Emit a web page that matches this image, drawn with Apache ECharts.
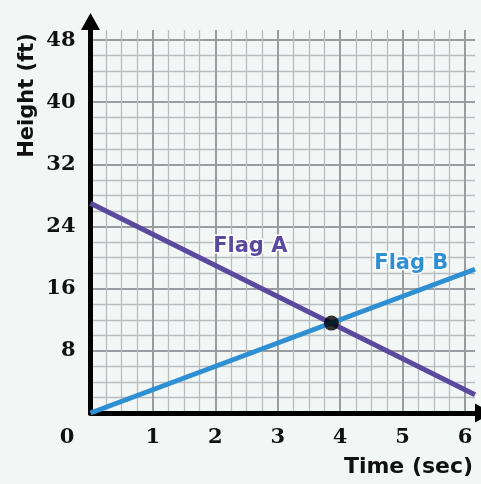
<!DOCTYPE html>
<html>
<head>
<meta charset="utf-8">
<script src="https://cdn.jsdelivr.net/npm/echarts@6/dist/echarts.min.js"></script>
<style>
html,body{margin:0;padding:0;background:#f2f7f6;}
#chart{width:481px;height:484px;}
</style>
</head>
<body>
<div id="chart"></div>
<script>
// Data
const flagATime = [0, 6.16];
const flagAHeight = [27, 2.36];
const flagBTime = [0, 6.16];
const flagBHeight = [0, 18.5];
const crossing = [3.86, 11.57];
const flagALabelPos = [2.56, 21.4];
const flagBLabelPos = [5.14, 19.2];
const xTicks = [0, 1, 2, 3, 4, 5, 6];
const yTicks = [8, 16, 24, 32, 40, 48];
const xMax = 6.16;
const yMax = 49.3;

const purple = '#5a4a9f';
const blue = '#2f8fd3';
const majorColor = '#9a9da0';
const minorColor = '#b9bcbe';
const tickFont = {fontFamily: 'DejaVu Serif', fontWeight: 'bold', fontSize: 21, color: '#111'};

const chart = echarts.init(document.getElementById('chart'), null, {renderer: 'canvas'});

const hiddenAxisBase = {axisLine: {show: false}, axisTick: {show: false}, axisLabel: {show: false}};

const option = {
  backgroundColor: '#f2f7f6',
  animation: false,
  grid: [
    {left: 90.5, right: 6, top: 40, bottom: 71},
    {left: 90.5, right: 16, top: 30, bottom: 71},
    {left: 90.5, right: 6, top: 30, bottom: 71}
  ],
  xAxis: [
    Object.assign({gridIndex: 0, type: 'value', min: 0, max: xMax, splitLine: {show: false}}, hiddenAxisBase),
    Object.assign({gridIndex: 1, type: 'value', min: 0, max: 6, interval: 1,
      splitLine: {show: true, lineStyle: {color: majorColor, width: 2}},
      minorTick: {show: false, splitNumber: 4},
      minorSplitLine: {show: true, lineStyle: {color: minorColor, width: 1.3}}}, hiddenAxisBase),
    {
      gridIndex: 2, type: 'value', min: 0, max: xMax, interval: 1,
      axisLine: {show: true, onZero: false, lineStyle: {color: '#000', width: 5},
        symbol: ['none', 'triangle'], symbolSize: [19, 17], symbolOffset: [0, 8.5]},
      axisTick: {show: false},
      splitLine: {show: false},
      axisLabel: {
        show: true, margin: 14,
        customValues: xTicks,
        formatter: function (v) { return v === 0 ? '{z|0}' : String(v); },
        rich: {z: Object.assign({padding: [0, 47, 0, 0]}, tickFont)},
        ...tickFont
      }
    }
  ],
  yAxis: [
    Object.assign({gridIndex: 0, type: 'value', min: 0, max: 48, interval: 8,
      splitLine: {show: true, lineStyle: {color: majorColor, width: 2}},
      minorTick: {show: false, splitNumber: 4},
      minorSplitLine: {show: true, lineStyle: {color: minorColor, width: 1.3}}}, hiddenAxisBase),
    Object.assign({gridIndex: 1, type: 'value', min: 0, max: yMax, splitLine: {show: false}}, hiddenAxisBase),
    {
      gridIndex: 2, type: 'value', min: 0, max: yMax, interval: 8,
      axisLine: {show: true, onZero: false, lineStyle: {color: '#000', width: 5},
        symbol: ['none', 'triangle'], symbolSize: [19, 17], symbolOffset: [0, 8.5]},
      axisTick: {show: false},
      splitLine: {show: false},
      axisLabel: {show: true, margin: 15, customValues: yTicks, ...tickFont}
    }
  ],
  graphic: [
    {type: 'text', x: 28, y: 95.5, rotation: Math.PI / 2, z: 100,
      style: {text: 'Height (ft)', fontFamily: 'DejaVu Sans', fontWeight: 'bold', fontSize: 21,
        fill: '#111', align: 'center', verticalAlign: 'middle'}},
    {type: 'text', x: 408.5, y: 467, z: 100,
      style: {text: 'Time (sec)', fontFamily: 'DejaVu Sans', fontWeight: 'bold', fontSize: 22,
        fill: '#111', align: 'center', verticalAlign: 'middle'}}
  ],
  series: [
    {
      type: 'line', name: 'Flag A', xAxisIndex: 2, yAxisIndex: 2,
      data: flagATime.map((t, i) => [t, flagAHeight[i]]),
      symbol: 'none', lineStyle: {color: purple, width: 5}, z: 3,
      markPoint: {
        symbol: 'circle', symbolSize: 1, itemStyle: {color: 'rgba(0,0,0,0)'},
        label: {show: true, position: 'inside', formatter: 'Flag A', color: purple,
          fontFamily: 'DejaVu Sans', fontWeight: 'bold', fontSize: 21,
          textBorderColor: '#fff', textBorderWidth: 3},
        data: [{coord: flagALabelPos}]
      }
    },
    {
      type: 'line', name: 'Flag B', xAxisIndex: 2, yAxisIndex: 2,
      data: flagBTime.map((t, i) => [t, flagBHeight[i]]),
      symbol: 'none', lineStyle: {color: blue, width: 5}, z: 4,
      markPoint: {
        symbol: 'circle', symbolSize: 1, itemStyle: {color: 'rgba(0,0,0,0)'},
        label: {show: true, position: 'inside', formatter: 'Flag B', color: blue,
          fontFamily: 'DejaVu Sans', fontWeight: 'bold', fontSize: 21,
          textBorderColor: '#fff', textBorderWidth: 3},
        data: [{coord: flagBLabelPos}]
      }
    },
    {
      type: 'scatter', name: 'Crossing', xAxisIndex: 2, yAxisIndex: 2,
      data: [crossing], symbol: 'circle', symbolSize: 15,
      itemStyle: {color: '#000'}, z: 5
    }
  ]
};
chart.setOption(option);
</script>
</body>
</html>
